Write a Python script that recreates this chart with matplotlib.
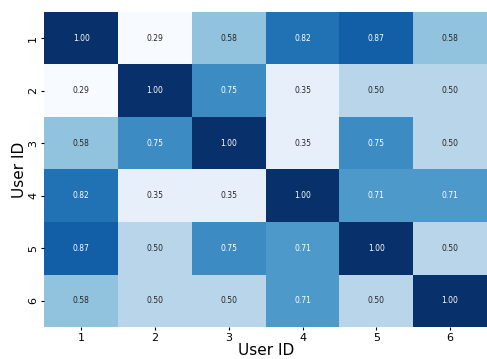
import matplotlib
matplotlib.use("Agg")
import matplotlib.pyplot as plt
import seaborn as sns
import numpy as np

# user-user similarity scores
user_ids = [1, 2, 3, 4, 5, 6]
sim_u1 = [1.00, 0.29, 0.58, 0.82, 0.87, 0.58]
sim_u2 = [0.29, 1.00, 0.75, 0.35, 0.50, 0.50]
sim_u3 = [0.58, 0.75, 1.00, 0.35, 0.75, 0.50]
sim_u4 = [0.82, 0.35, 0.35, 1.00, 0.71, 0.71]
sim_u5 = [0.87, 0.50, 0.75, 0.71, 1.00, 0.50]
sim_u6 = [0.58, 0.50, 0.50, 0.71, 0.50, 1.00]

sim = np.array([sim_u1, sim_u2, sim_u3, sim_u4, sim_u5, sim_u6])

fig = plt.figure(figsize=(4.87, 3.59), dpi=100)
ax = fig.add_axes([0.091, 0.089, 0.909, 0.878])
sns.heatmap(sim, annot=True, fmt=".2f", cmap="Blues", cbar=False,
            xticklabels=user_ids, yticklabels=user_ids,
            annot_kws={"size": 5.5}, ax=ax)
ax.set_xlabel("User ID", fontsize=11, labelpad=0)
ax.set_ylabel("User ID", fontsize=11, labelpad=1)
ax.tick_params(axis="both", labelsize=8, length=2.5, pad=2)
plt.setp(ax.get_yticklabels(), rotation=90, va="center")

fig.savefig("out.png", dpi=100)
